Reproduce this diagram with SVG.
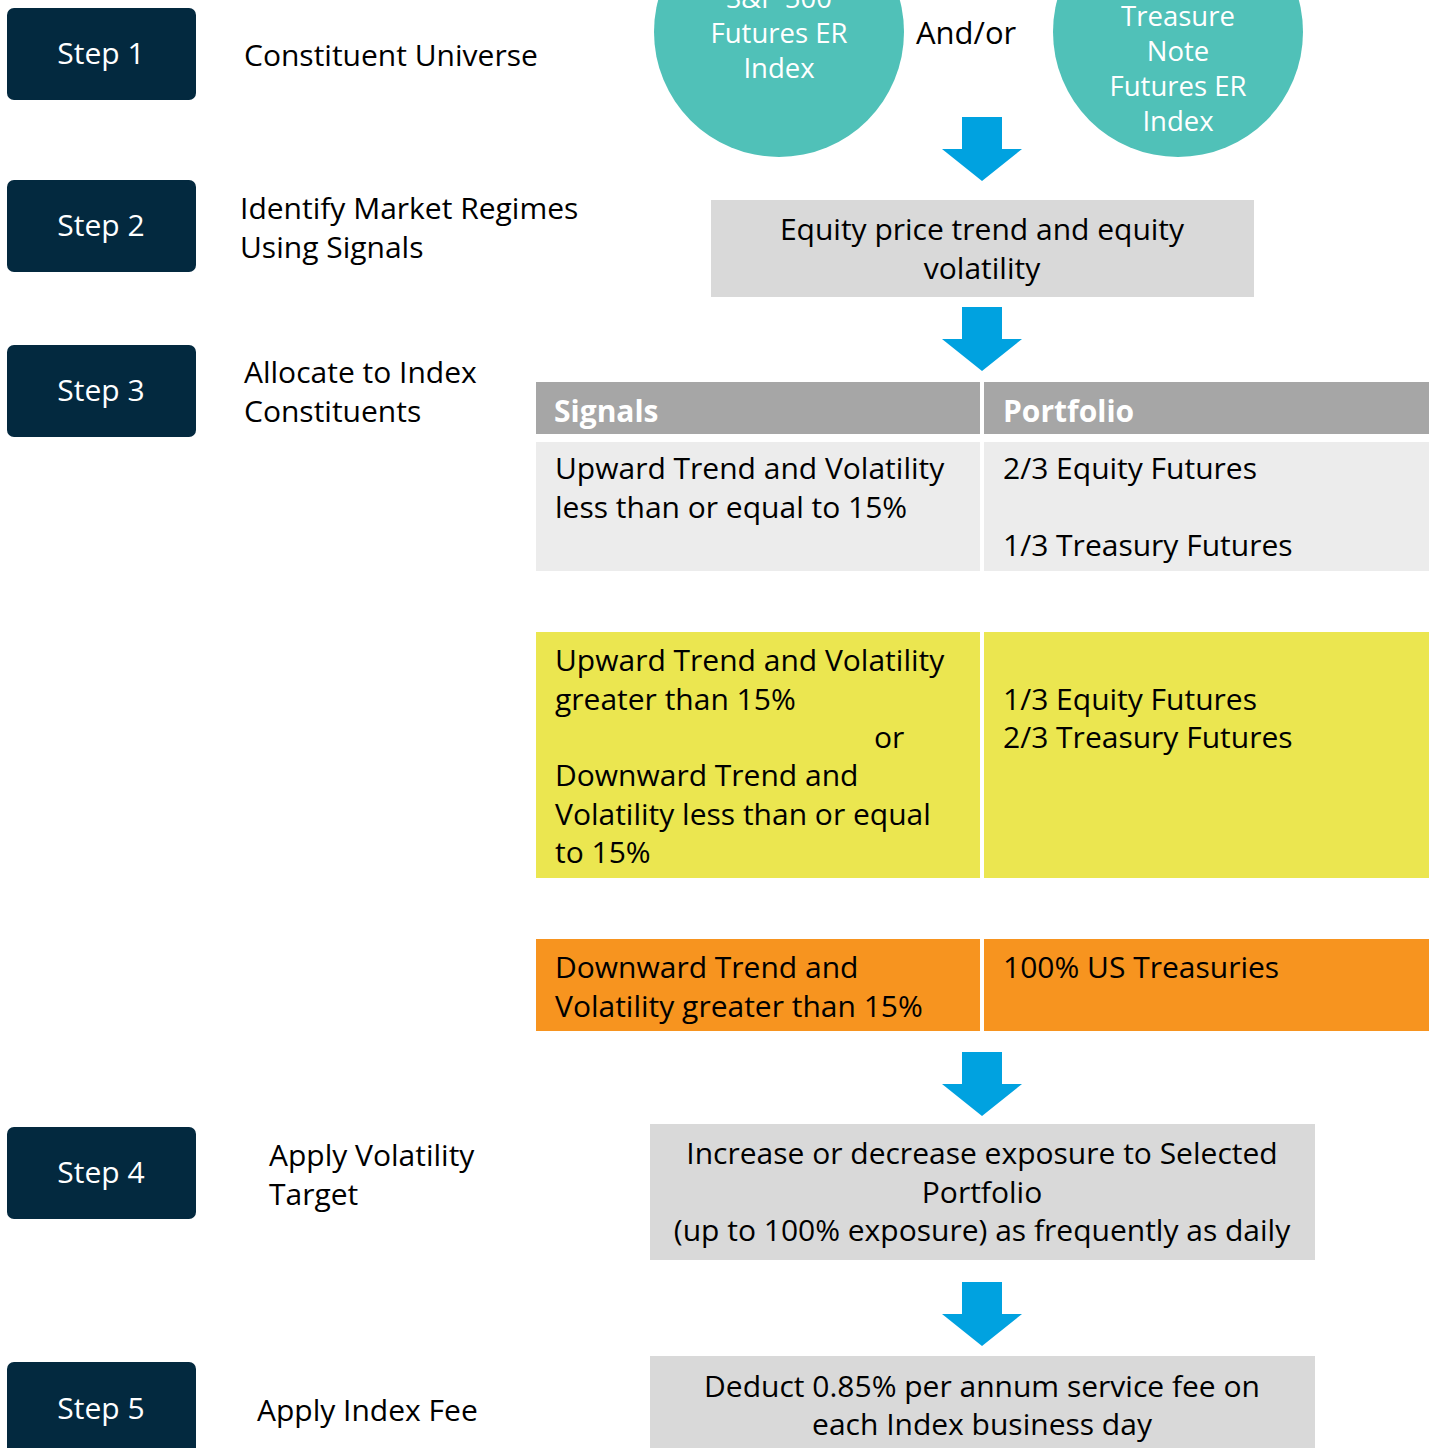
<svg xmlns="http://www.w3.org/2000/svg" width="1433" height="1448" viewBox="0 0 1433 1448">
<style>
text{font-family:"Open Sans","Noto Sans","Liberation Sans",sans-serif;font-size:30px;fill:#000}
.step rect{fill:#03293f}
.step text{fill:#fff;text-anchor:middle}
.circ ellipse{fill:#50c1b8}
.circ text{fill:#fff;text-anchor:middle;font-size:27.5px}
.gray{fill:#d9d9d9}
.c{text-anchor:middle}
.hdr{fill:#a6a6a6}
.hdr-t{fill:#fff;font-weight:bold}
.arrow{fill:#00a2e0}
</style>
<defs>
<path id="arr" d="M-20,0 H20 V32 H40 L0,64 L-40,32 H-20 Z"/>
</defs>
<rect width="1433" height="1448" fill="#fff"/>

<g id="step1" class="step"><rect x="7" y="8" width="189" height="92" rx="7"/><text x="101" y="64">Step 1</text></g>
<g id="step2" class="step"><rect x="7" y="180" width="189" height="92" rx="7"/><text x="101" y="236">Step 2</text></g>
<g id="step3" class="step"><rect x="7" y="345" width="189" height="92" rx="7"/><text x="101" y="401">Step 3</text></g>
<g id="step4" class="step"><rect x="7" y="1127" width="189" height="92" rx="7"/><text x="101" y="1183">Step 4</text></g>
<g id="step5" class="step"><rect x="7" y="1362" width="189" height="100" rx="7"/><text x="101" y="1419">Step 5</text></g>

<g id="label1"><text x="244" y="66">Constituent Universe</text></g>
<g id="label2"><text x="240" y="219">Identify Market Regimes</text><text x="240" y="258">Using Signals</text></g>
<g id="label3"><text x="244" y="383">Allocate to Index</text><text x="244" y="422">Constituents</text></g>
<g id="label4"><text x="269" y="1166">Apply Volatility</text><text x="269" y="1205">Target</text></g>
<g id="label5"><text x="257" y="1421">Apply Index Fee</text></g>

<g id="sp500" class="circ"><ellipse cx="779" cy="32" rx="125" ry="125"/>
<text x="779" y="8">S&amp;P 500</text><text x="779" y="43">Futures ER</text><text x="779" y="78">Index</text></g>
<g id="andor"><text x="916" y="44" style="font-size:31px">And/or</text></g>
<g id="treasury" class="circ"><ellipse cx="1178" cy="32" rx="125" ry="125"/>
<text x="1178" y="26">Treasure</text><text x="1178" y="61">Note</text><text x="1178" y="96">Futures ER</text><text x="1178" y="131">Index</text></g>

<g id="signals-box"><rect class="gray" x="711" y="200" width="543" height="97"/>
<text class="c" x="982" y="240">Equity price trend and equity</text><text class="c" x="982" y="279">volatility</text></g>

<g id="table">
<rect class="hdr" x="536" y="382" width="444" height="52"/>
<rect class="hdr" x="984" y="382" width="445" height="52"/>
<text class="hdr-t" x="554" y="422">Signals</text>
<text class="hdr-t" x="1003" y="422">Portfolio</text>

<rect x="536" y="442" width="444" height="129" fill="#ececec"/>
<rect x="984" y="442" width="445" height="129" fill="#ececec"/>
<text x="555" y="479">Upward Trend and Volatility</text>
<text x="555" y="518">less than or equal to 15%</text>
<text x="1003" y="479">2/3 Equity Futures</text>
<text x="1003" y="556">1/3 Treasury Futures</text>

<rect x="536" y="632" width="444" height="246" fill="#ebe650"/>
<rect x="984" y="632" width="445" height="246" fill="#ebe650"/>
<text x="555" y="671">Upward Trend and Volatility</text>
<text x="555" y="710">greater than 15%</text>
<text x="874" y="748">or</text>
<text x="555" y="786">Downward Trend and</text>
<text x="555" y="825">Volatility less than or equal</text>
<text x="555" y="863">to 15%</text>
<text x="1003" y="710">1/3 Equity Futures</text>
<text x="1003" y="748">2/3 Treasury Futures</text>

<rect x="536" y="939" width="444" height="92" fill="#f7941f"/>
<rect x="984" y="939" width="445" height="92" fill="#f7941f"/>
<text x="555" y="978">Downward Trend and</text>
<text x="555" y="1017">Volatility greater than 15%</text>
<text x="1003" y="978">100% US Treasuries</text>
</g>

<g id="voltarget-box"><rect class="gray" x="650" y="1124" width="665" height="136"/>
<text class="c" x="982" y="1164">Increase or decrease exposure to Selected</text>
<text class="c" x="982" y="1203">Portfolio</text>
<text class="c" x="982" y="1241">(up to 100% exposure) as frequently as daily</text></g>

<g id="fee-box"><rect class="gray" x="650" y="1356" width="665" height="100"/>
<text class="c" x="982" y="1397">Deduct 0.85% per annum service fee on</text>
<text class="c" x="982" y="1435">each Index business day</text></g>

<g id="connectors" class="arrow">
<use href="#arr" x="982" y="117"/>
<use href="#arr" x="982" y="307"/>
<use href="#arr" x="982" y="1052"/>
<use href="#arr" x="982" y="1282"/>
</g>
</svg>
